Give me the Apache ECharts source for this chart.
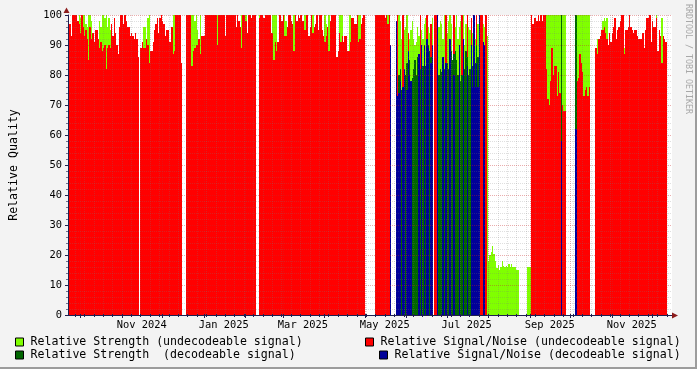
<!DOCTYPE html>
<html><head><meta charset="utf-8">
<script src="https://cdn.jsdelivr.net/npm/echarts@6/dist/echarts.min.js"></script>
<style>html,body{margin:0;padding:0;background:#f3f3f3;}#c{width:697px;height:369px;}</style>
</head><body><div id="c"></div>
<script>
const N = null;
// x = day index since 2024-09-22 (one value per day, 450 days)
const totalDays = 450;
const monthStartDays = [9,40,70,101,132,160,191,221,252,282,313,344,374,405,435];
const monthLabelDays = [55,116,175,236,297,359,420];
const monthLabels = ['Nov 2024','Jan 2025','Mar 2025','May 2025','Jul 2025','Sep 2025','Nov 2025'];
const firstWeekDay = 5;
const yTickValues = [0,10,20,30,40,50,60,70,80,90,100];

const seriesNames = [
  'Relative Strength (undecodeable signal)',
  'Relative Signal/Noise (undecodeable signal)',
  'Relative Strength  (decodeable signal)',
  'Relative Signal/Noise (decodeable signal)'
];

const undecStrength = [
/*0*/ 97,N,N,N,N,N,N,N,100,99,
/*10*/ N,100,100,97,96,100,100,98,N,N,
/*20*/ N,N,N,98,96,100,100,99,100,96,
/*30*/ 99,95,N,N,N,N,N,N,N,N,
/*40*/ N,N,N,N,N,N,N,N,N,N,
/*50*/ N,N,N,N,N,N,96,96,N,99,
/*60*/ 100,N,N,N,N,N,N,N,N,N,
/*70*/ N,N,N,N,N,N,N,N,100,100,
/*80*/ N,N,N,N,N,N,N,N,N,N,
/*90*/ N,N,100,100,98,100,95,N,100,N,
/*100*/ N,N,N,N,N,N,N,N,N,N,
/*110*/ N,100,N,N,N,N,N,N,N,N,
/*120*/ N,N,N,N,N,N,N,N,N,100,
/*130*/ N,N,100,N,N,N,N,N,N,N,
/*140*/ N,N,100,N,N,N,N,N,N,N,
/*150*/ N,N,100,100,100,100,N,N,N,N,
/*160*/ N,100,98,N,N,N,N,N,100,N,
/*170*/ N,N,N,N,N,N,100,N,N,N,
/*180*/ N,N,100,N,N,N,N,N,N,N,
/*190*/ N,100,97,N,100,N,N,N,N,N,
/*200*/ N,N,100,100,100,N,N,N,N,100,
/*210*/ 100,N,N,N,N,N,100,100,N,N,
/*220*/ N,N,N,N,N,N,N,N,N,N,
/*230*/ N,N,N,N,N,N,N,N,100,N,
/*240*/ N,N,N,N,N,N,100,98,92,N,
/*250*/ 95,96,100,N,92,95,98,92,90,91,
/*260*/ 96,93,N,95,92,97,99,N,96,94,
/*270*/ N,99,N,N,N,N,96,98,97,92,
/*280*/ 100,N,94,98,100,97,N,N,96,100,
/*290*/ 92,96,98,N,100,90,97,N,96,95,
/*300*/ N,94,N,92,N,97,N,N,N,97,
/*310*/ 96,N,93,18,20,21,23,20.5,18,15.6,
/*320*/ 16.7,15,16,18,16.5,16,16.5,16,17,16,
/*330*/ 17,16,16,16,15,15,N,N,N,N,
/*340*/ N,N,16,16,16,N,N,N,N,N,
/*350*/ N,N,N,N,N,N,100,100,100,100,
/*360*/ 100,100,100,100,100,100,100,100,100,100,
/*370*/ 100,N,N,N,N,N,N,N,N,100,
/*380*/ 100,100,100,100,100,100,100,100,100,N,
/*390*/ N,N,N,N,92,N,N,N,98,99,
/*400*/ 98,99,N,N,N,N,N,N,N,N,
/*410*/ N,N,N,N,89,N,N,N,N,N,
/*420*/ N,N,N,N,N,N,N,N,N,N,
/*430*/ N,N,N,N,N,N,N,N,100,N,
/*440*/ N,N,99,N,N,N,N,N,N,N
];

const undecSNR = [
/*0*/ 90,97,93,100,100,100,100,98,97,94,
/*10*/ 100,96,93,95,92,85,96,92,94,91,
/*20*/ 95,95,92,89,91,88,89,90,82,89,
/*30*/ 90,89,97,93,99,94,90,87,96,100,
/*40*/ 100,97,100,98,96,96,93,94,93,92,
/*50*/ 94,92,86,N,89,91,89,89,92,90,
/*60*/ 84,88,88,91,95,97,99,94,99,100,
/*70*/ 98,97,93,95,95,91,91,96,87,88,
/*80*/ 100,100,100,100,84,N,N,N,100,100,
/*90*/ 100,100,83,88,89,90,90,92,87,93,
/*100*/ 93,93,100,100,100,100,100,100,100,100,
/*110*/ 100,90,100,100,100,100,100,93,100,100,
/*120*/ 100,100,100,100,100,96,100,98,96,89,
/*130*/ 100,100,98,94,100,100,99,100,100,100,
/*140*/ N,N,99,100,100,99,99,100,100,100,
/*150*/ 100,94,94,85,91,88,91,100,100,98,
/*160*/ 100,93,93,96,100,100,98,97,88,100,
/*170*/ 98,100,99,100,98,98,95,100,100,93,
/*180*/ 96,100,94,96,97,100,95,100,100,95,
/*190*/ 93,91,93,96,88,98,100,100,100,100,
/*200*/ 86,88,94,91,93,91,93,93,88,88,
/*210*/ 91,99,99,97,97,100,91,92,97,99,
/*220*/ 100,N,N,N,N,N,N,N,N,100,
/*230*/ 100,100,100,100,100,100,99,100,97,100,
/*240*/ N,N,N,N,N,100,N,N,N,100,
/*250*/ N,N,N,94,N,N,N,N,N,N,
/*260*/ N,N,100,N,N,N,N,100,N,N,
/*270*/ 97,N,N,100,100,100,N,N,N,N,
/*280*/ N,100,N,N,N,N,N,100,N,N,
/*290*/ N,N,N,100,N,N,N,100,N,N,
/*300*/ 99,N,100,N,100,N,100,100,100,N,
/*310*/ N,100,N,N,N,N,N,N,N,N,
/*320*/ N,N,N,N,N,N,N,N,N,N,
/*330*/ N,N,N,N,N,N,N,N,N,N,
/*340*/ N,N,N,N,N,100,97,99,99,98,
/*350*/ 100,98,100,98,100,100,82,72,70,78,
/*360*/ 89,80,83,83,73,81,74,75,70,68,
/*370*/ 68,N,N,N,N,N,N,N,N,78,
/*380*/ 79,87,84,81,73,75,76,73,76,N,
/*390*/ N,N,N,89,87,92,93,95,95,96,
/*400*/ 94,92,90,94,91,94,96,99,92,95,
/*410*/ 96,98,100,100,87,95,95,96,100,96,
/*420*/ 95,94,95,95,93,92,92,92,94,89,
/*430*/ 95,99,99,100,91,98,96,96,99,88,
/*440*/ 95,93,84,93,92,91,N,N,N,N
];

const decStrength = [
/*0*/ N,N,N,N,N,N,N,N,N,N, N,N,N,N,N,N,N,N,N,N, N,N,N,N,N,N,N,N,N,N, N,N,N,N,N,N,N,N,N,N,
/*40*/ N,N,N,N,N,N,N,N,N,N, N,N,N,N,N,N,N,N,N,N, N,N,N,N,N,N,N,N,N,N, N,N,N,N,N,N,N,N,N,N,
/*80*/ N,N,N,N,N,N,N,N,N,N, N,N,N,N,N,N,N,N,N,N, N,N,N,N,N,N,N,N,N,N, N,N,N,N,N,N,N,N,N,N,
/*120*/ N,N,N,N,N,N,N,N,N,N, N,N,N,N,N,N,N,N,N,N, N,N,N,N,N,N,N,N,N,N, N,N,N,N,N,N,N,N,N,N,
/*160*/ N,N,N,N,N,N,N,N,N,N, N,N,N,N,N,N,N,N,N,N, N,N,N,N,N,N,N,N,N,N, N,N,N,N,N,N,N,N,N,N,
/*200*/ N,N,N,N,N,N,N,N,N,N, N,N,N,N,N,N,N,N,N,N, N,N,N,N,N,N,N,N,N,N, N,N,N,N,N,N,N,N,N,N,
/*240*/ 88,N,N,N,N,N,80,82,75,74,
/*250*/ 78,80,84,78,85,76,79,82,85,80,
/*260*/ 86,84,82,86,83,88,83,85,90,88,
/*270*/ 86,85,N,N,N,N,80,82,81,80,
/*280*/ 82,81,84,82,90,88,85,87,88,85,
/*290*/ 80,86,78,80,84,82,88,86,80,82,
/*300*/ 85,83,86,84,90,86,90,N,N,88,
/*310*/ N,N,N,N,N,N,N,N,N,N, N,N,N,N,N,N,N,N,N,N, N,N,N,N,N,N,N,N,N,N, N,N,N,N,N,N,N,N,N,N,
/*350*/ N,N,N,N,N,N,N,N,N,N,
/*360*/ N,N,N,N,N,N,N,100,N,N,
/*370*/ N,N,N,N,N,N,N,N,100,N,
/*380*/ N,N,N,N,N,N,N,N,N,N, N,N,N,N,N,N,N,N,N,N, N,N,N,N,N,N,N,N,N,N, N,N,N,N,N,N,N,N,N,N,
/*420*/ N,N,N,N,N,N,N,N,N,N, N,N,N,N,N,N,N,N,N,N, N,N,N,N,N,N,N,N,N,N
];

const decSNR = [
/*0*/ N,N,N,N,N,N,N,N,N,N, N,N,N,N,N,N,N,N,N,N, N,N,N,N,N,N,N,N,N,N, N,N,N,N,N,N,N,N,N,N,
/*40*/ N,N,N,N,N,N,N,N,N,N, N,N,N,N,N,N,N,N,N,N, N,N,N,N,N,N,N,N,N,N, N,N,N,N,N,N,N,N,N,N,
/*80*/ N,N,N,N,N,N,N,N,N,N, N,N,N,N,N,N,N,N,N,N, N,N,N,N,N,N,N,N,N,N, N,N,N,N,N,N,N,N,N,N,
/*120*/ N,N,N,N,N,N,N,N,N,N, N,N,N,N,N,N,N,N,N,N, N,N,N,N,N,N,N,N,N,N, N,N,N,N,N,N,N,N,N,N,
/*160*/ N,N,N,N,N,N,N,N,N,N, N,N,N,N,N,N,N,N,N,N, N,N,N,N,N,N,N,N,N,N, N,N,N,N,N,N,N,N,N,N,
/*200*/ N,N,N,N,N,N,N,N,N,N, N,N,N,N,N,N,N,N,N,N, N,N,N,N,N,N,N,N,N,N, N,N,N,N,N,N,N,N,N,N,
/*240*/ 90,N,N,N,98,73,74,78,N,76,
/*250*/ 82,N,75,88,80,78,N,N,N,N,
/*260*/ N,87,N,90,N,90,N,92,89,N,
/*270*/ 84,90,N,N,N,100,N,N,N,86,
/*280*/ N,84,N,N,92,N,N,80,N,N,
/*290*/ N,90,N,N,92,N,N,83,N,N,
/*300*/ 90,76,100,76,84,76,100,N,N,91,
/*310*/ 90,N,N,N,N,N,N,N,N,N, N,N,N,N,N,N,N,N,N,N, N,N,N,N,N,N,N,N,N,N, N,N,N,N,N,N,N,N,N,N,
/*350*/ N,N,N,N,N,N,N,N,N,N,
/*360*/ N,N,N,N,N,N,N,58,N,N,
/*370*/ N,N,N,N,N,N,N,N,62,N,
/*380*/ N,N,N,N,N,N,N,N,N,N, N,N,N,N,N,N,N,N,N,N, N,N,N,N,N,N,N,N,N,N, N,N,N,N,N,N,N,N,N,N,
/*420*/ N,N,N,N,N,N,N,N,N,N, N,N,N,N,N,N,N,N,N,N, N,N,N,N,N,N,N,N,N,N
];

const colors = ['#80ff00', '#ff0000', '#006600', '#000099'];
const MONO = "'DejaVu Sans Mono', monospace";
const AXIS_COL = '#202050';
const MINOR_COL = 'rgba(120,120,120,0.24)';
const MAJOR_COL = 'rgba(200,40,40,0.38)';

function toItems(arr){ const out=[]; arr.forEach((v,i)=>{ if(v!==null) out.push([i,v]); }); return out; }

function rectRender(params, api){
  const d = api.value(0), v = api.value(1);
  const a = api.coord([d, 0]), b = api.coord([d + 1, v]);
  const x0 = Math.round(a[0]), x1 = Math.round(b[0]);
  const y0 = Math.round(a[1]), y1 = Math.round(b[1]);
  return {type:'rect', shape:{x:x0, y:y1, width:Math.max(1, x1 - x0), height:y0 - y1},
          style:{fill: api.visual('color')}};
}

// grid lines (drawn above the areas, like rrdtool)
const gridItems = [];
for (let d = firstWeekDay; d < totalDays; d += 7) gridItems.push([0, d]);
monthStartDays.forEach(d => gridItems.push([1, d]));
for (let v = 2; v < 100; v += 2) if (v % 10) gridItems.push([2, v]);
yTickValues.forEach(v => { if (v > 0) gridItems.push([3, v]); });

function gridRender(params, api){
  const kind = api.value(0), v = api.value(1);
  const tl = api.coord([0, 100]), br = api.coord([totalDays, 0]);
  const col = (kind === 1 || kind === 3) ? MAJOR_COL : MINOR_COL;
  if (kind < 2) {
    const x = Math.round(api.coord([v, 0])[0]) + 0.5;
    return {type:'group', children:[
      {type:'line', shape:{x1:x, y1:tl[1], x2:x, y2:br[1]}, style:{stroke:col, lineWidth:1, lineDash:[1,1]}},
      {type:'line', shape:{x1:x, y1:br[1] - 1, x2:x, y2:br[1] + (kind === 1 ? 3 : 2)}, style:{stroke:AXIS_COL, lineWidth:1}}
    ]};
  }
  const y = Math.round(api.coord([0, v])[1]) + 0.5;
  return {type:'line', shape:{x1:tl[0], y1:y, x2:br[0], y2:y}, style:{stroke:col, lineWidth:1, lineDash:[1,1]}};
}

const dataSets = [undecStrength, undecSNR, decStrength, decSNR];
const series = dataSets.map((arr, i) => ({
  name: seriesNames[i], type:'custom', renderItem: rectRender, data: toItems(arr),
  itemStyle:{color: colors[i]}, z: 2 + i, silent: true, animation: false
}));
series.push({name:'grid', type:'custom', renderItem: gridRender, data: gridItems, z: 8, silent: true, animation:false});

function legendAt(idx, left, top){
  return {data:[{name: seriesNames[idx], icon:'rect'}], left: left, top: top, padding: 0,
    itemWidth: 8, itemHeight: 8, itemGap: 0, selectedMode: false,
    itemStyle:{borderColor:'#000', borderWidth:1},
    textStyle:{fontFamily: MONO, fontSize: 11.6, color:'#000', padding:[0,0,0,2], lineHeight: 14}};
}

const chart = echarts.init(document.getElementById('c'), null, {renderer:'canvas', width:697, height:369});
chart.setOption({
  animation: false,
  backgroundColor: '#f3f3f3',
  grid: {left: 66, right: 25, top: 15, bottom: 54, show: true, backgroundColor:'#ffffff', borderWidth: 0},
  xAxis: {
    type:'value', min: 0, max: totalDays, z: 10,
    axisLine:{show:true, onZero:false, lineStyle:{color: AXIS_COL, width:1}},
    axisTick:{show:false},
    splitLine:{show:false},
    axisLabel:{show:true, customValues: monthLabelDays, margin: 5,
      formatter: v => { const k = monthLabelDays.indexOf(v); return k >= 0 ? monthLabels[k] : ''; },
      fontFamily: MONO, fontSize: 10.4, color:'#000'}
  },
  yAxis: {
    type:'value', min: 0, max: 100, interval: 10, z: 10,
    name: 'Relative Quality', nameLocation:'middle', nameRotate: 90, nameGap: 48,
    nameTextStyle:{fontFamily: MONO, fontSize: 11.6, color:'#000'},
    axisLine:{show:true, lineStyle:{color: AXIS_COL, width:1}},
    axisTick:{show:true, length: 3, lineStyle:{color: AXIS_COL}},
    minorTick:{show:true, splitNumber: 5, length: 2, lineStyle:{color: 'rgba(32,32,80,0.6)'}},
    splitLine:{show:false},
    axisLabel:{fontFamily: MONO, fontSize: 10.4, color:'#000', margin: 6}
  },
  legend: [legendAt(0, 15, 335), legendAt(1, 365, 335), legendAt(2, 15, 348), legendAt(3, 379, 348)],
  series: series,
  graphic: [
    {type:'text', left: 684, top: 4, rotation: -Math.PI/2, originX: 0, originY: 0,
      style:{text:'RRDTOOL / TOBI OETIKER', font:"8.3px 'DejaVu Sans Mono', monospace", fill:'#a8a8a8'}},
    {type:'polygon', shape:{points:[[63.5,13],[66.5,7.5],[69.5,13]]}, style:{fill:'#8c1c1c'}, z: 20},
    {type:'polygon', shape:{points:[[672,312.5],[678,315.5],[672,318.5]]}, style:{fill:'#8c1c1c'}, z: 20},
    {type:'rect', shape:{x:695, y:0, width:2, height:369}, style:{fill:'#9c9c9c'}, z: 20},
    {type:'rect', shape:{x:0, y:367, width:697, height:2}, style:{fill:'#9c9c9c'}, z: 20}
  ]
});
</script></body></html>
